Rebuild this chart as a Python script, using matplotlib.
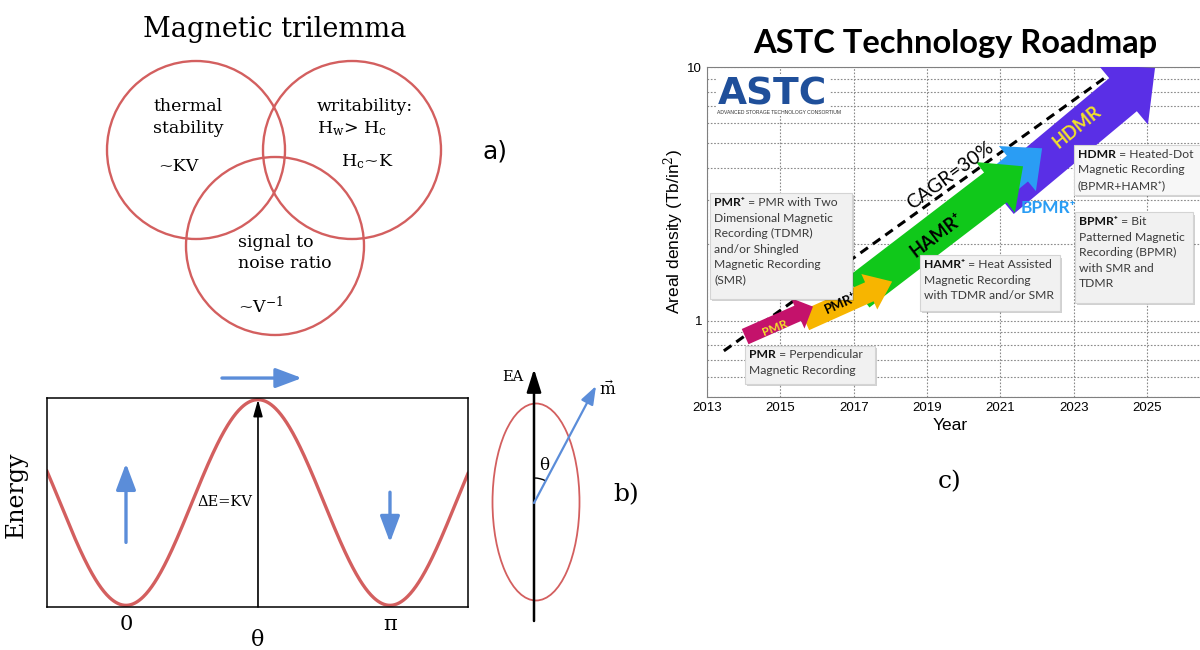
import numpy as np
import matplotlib.pyplot as plt
import matplotlib.patheffects as pe
from matplotlib.patches import Circle, Ellipse, Arc, FancyArrowPatch, Rectangle
from matplotlib.ticker import NullFormatter

plt.rcParams['font.family'] = ['DejaVu Serif']
plt.rcParams['mathtext.fontset'] = 'dejavuserif'

# a) magnetic trilemma
trilemma_title = 'Magnetic trilemma'
thermal_lines = ['thermal', 'stability', '~KV']
write_lines = ['writability:', r'H$_{\mathrm{w}}$> H$_{\mathrm{c}}$', r'H$_{\mathrm{c}}$~K']
snr_lines = ['signal to', 'noise ratio', r'~V$^{\mathrm{-1}}$']

# b) anisotropy energy landscape, E = KV sin^2(theta), KV = 1
KV = 1.0
theta_min, theta_max = -0.94, 4.07
theta_ticks = [0, np.pi]
theta_ticklabels = ['0', 'π']

# c) ASTC roadmap
year_ticks = [2013, 2015, 2017, 2019, 2021, 2023, 2025]
density_ticks = [1, 10]
density_ticklabels = ['1', '10']
cagr_years = [2013.46, 2024.07]
cagr_density = [0.76, 9.55]

tech = ['HDMR', 'BPMR⁺', 'HAMR⁺', 'PMR⁺', 'PMR']
start_year = [2020.99, 2020.58, 2017.12, 2015.67, 2014.04]
end_year = [2025.22, 2022.14, 2021.62, 2018.05, 2015.89]
start_density = [3.06, 3.12, 1.29, 1.00, 0.865]
end_density = [9.91, 4.78, 4.06, 1.426, 1.136]
tech_colors = ['#5a2fe6', '#2a9df4', '#10c81a', '#f7b500', '#c4126b']

note_bold = ['PMR⁺', 'PMR', 'HAMR⁺', 'BPMR⁺', 'HDMR']
note_first = [' = PMR with Two', ' = Perpendicular', ' = Heat Assisted', ' = Bit', ' = Heated-Dot']
note_rest = ['Dimensional Magnetic\nRecording (TDMR)\nand/or Shingled\nMagnetic Recording\n(SMR)',
             'Magnetic Recording',
             'Magnetic Recording\nwith TDMR and/or SMR',
             'Patterned Magnetic\nRecording (BPMR)\nwith SMR and\nTDMR',
             'Magnetic Recording\n(BPMR+HAMR⁺)']

red = '#d35f5f'
blue = '#5b8dd9'

fig = plt.figure(figsize=(12, 6.5), dpi=100)

# canvas in pixel units for the sketch parts
ax0 = fig.add_axes([0, 0, 1, 1])
ax0.set_xlim(0, 1200)
ax0.set_ylim(650, 0)
ax0.axis('off')

# ---- a)
ax0.text(275, 37, trilemma_title, ha='center', va='baseline', fontsize=19.5)
for cx, cy in [(196, 150), (352, 150), (275, 246)]:
    ax0.add_patch(Circle((cx, cy), 89, fill=False, ec=red, lw=1.7))
for txt, x, y in zip(thermal_lines, [153, 153, 158], [111, 133, 171]):
    ax0.text(x, y, txt, va='baseline', fontsize=12.5)
for txt, x, y in zip(write_lines, [317, 317, 341], [111, 133, 166]):
    ax0.text(x, y, txt, va='baseline', fontsize=12.5)
for txt, x, y in zip(snr_lines, [238, 238, 238], [247, 268, 313]):
    ax0.text(x, y, txt, va='baseline', fontsize=12.5)
ax0.text(482, 158, 'a)', va='baseline', fontsize=18, family='DejaVu Sans')

# ---- b) right sketch
ax0.add_patch(Ellipse((536, 502), 87, 197, fill=False, ec=red, lw=1.3))
ax0.annotate('', xy=(534, 369), xytext=(534, 621),
             arrowprops=dict(arrowstyle='-|>,head_length=0.7,head_width=0.22', mutation_scale=20,
                             lw=1.8, color='black', shrinkA=0, shrinkB=0))
ax0.annotate('', xy=(596, 386), xytext=(534, 503),
             arrowprops=dict(arrowstyle='-|>,head_length=0.55,head_width=0.2', mutation_scale=20,
                             lw=1.6, color=blue, shrinkA=0, shrinkB=0))
ax0.add_patch(Arc((534, 503), 50, 50, theta1=-90, theta2=-62, color='black', lw=1.0))
ax0.text(513, 377, 'EA', ha='center', va='center', fontsize=10.5)
ax0.text(608, 390, r'$\vec{\mathrm{m}}$', ha='center', va='center', fontsize=12)
ax0.text(544, 465, 'θ', ha='center', va='center', fontsize=12)
ax0.text(626, 495, 'b)', ha='center', va='center', fontsize=18)

# ---- c) label
ax0.text(950, 482, 'c)', ha='center', va='center', fontsize=18)

# ---- b) energy curve
axe = fig.add_axes([47 / 1200, 43 / 650, 421 / 1200, 209 / 650])
theta = np.linspace(theta_min, theta_max, 600)
axe.plot(theta, KV * np.sin(theta) ** 2, color=red, lw=2.4)
axe.set_xlim(theta_min, theta_max)
axe.set_ylim(-0.008, 1.008)
axe.set_xticks(theta_ticks, theta_ticklabels)
axe.set_yticks([])
axe.tick_params(length=0, pad=6, labelsize=15)
axe.set_xlabel('θ', fontsize=16)
axe.xaxis.set_label_coords(0.5, -0.105)
axe.set_ylabel('Energy', fontsize=17)
axe.yaxis.set_label_coords(-0.045, 0.535)
for s in axe.spines.values():
    s.set_linewidth(1.1)
arr = dict(mutation_scale=20, lw=2.4, color=blue, shrinkA=0, shrinkB=0)
axe.annotate('', xy=(0, 0.69), xytext=(0, 0.306),
             arrowprops=dict(arrowstyle='-|>,head_length=0.8,head_width=0.3', **arr))
axe.annotate('', xy=(np.pi, 0.306), xytext=(np.pi, 0.55),
             arrowprops=dict(arrowstyle='-|>,head_length=0.8,head_width=0.3', **arr))
axe.annotate('', xy=(2.094, 1.105), xytext=(1.142, 1.105), annotation_clip=False,
             arrowprops=dict(arrowstyle='-|>,head_length=0.8,head_width=0.3', **arr))
axe.annotate('', xy=(np.pi / 2, 1.0), xytext=(np.pi / 2, -0.008),
             arrowprops=dict(arrowstyle='-|>,head_length=0.5,head_width=0.14', mutation_scale=20,
                             lw=1.2, color='black', shrinkA=0, shrinkB=0))
axe.text(1.50, 0.50, 'ΔE=KV', ha='right', va='center', fontsize=10.5)

# ---- c) roadmap
sans = ['Lato', 'DejaVu Sans']
arial = ['Liberation Sans', 'DejaVu Sans']
fig.text(955 / 1200, 1 - 43 / 650, 'ASTC Technology Roadmap', ha='center', va='center',
         fontsize=23.5, weight='bold', family=sans)

axr = fig.add_axes([707 / 1200, 253 / 650, 503 / 1200, 330 / 650])
axr.set_yscale('log')
axr.set_xlim(2013, 2026.72)
axr.set_ylim(0.5, 10)
axr.set_xticks(year_ticks)
axr.set_yticks(density_ticks, density_ticklabels)
axr.yaxis.set_minor_formatter(NullFormatter())
axr.grid(which='both', ls=(0, (1.5, 1.5)), color='#8a8a8a', lw=0.8)
axr.tick_params(which='both', length=0, labelsize=9.5)
for lab in axr.get_xticklabels() + axr.get_yticklabels():
    lab.set_family(arial)
for s in axr.spines.values():
    s.set_color('#808080')
axr.set_xlabel('Year', fontsize=12.5, family=arial)
axr.set_ylabel('Areal density (Tb/in$^2$)', fontsize=12.5, family=arial)
axr.xaxis.set_label_coords(0.483, -0.065)
axr.yaxis.set_label_coords(-0.042, 0.5)

axr.plot(cagr_years, cagr_density, color='black', lw=2.2, ls=(0, (3, 2)), zorder=2,
         path_effects=[pe.Stroke(linewidth=5, foreground='white'), pe.Normal()])

widths = {'HDMR': (31, 56, 30), 'BPMR⁺': (24, 42, 23), 'HAMR⁺': (27, 46, 25),
          'PMR⁺': (15, 28, 18), 'PMR': (12, 24, 12)}
for i, name in enumerate(tech):
    tw, hw, hl = widths[name]
    axr.add_patch(FancyArrowPatch((start_year[i], start_density[i]), (end_year[i], end_density[i]),
                                  arrowstyle=f'simple,tail_width={tw},head_width={hw},head_length={hl}',
                                  mutation_scale=1, color=tech_colors[i], lw=0, shrinkA=0, shrinkB=0,
                                  zorder=3 + i))

lab_kw = dict(ha='center', va='center', weight='bold', family=sans, rotation_mode='anchor', zorder=12)
axr.text(2014.85, 0.935, 'PMR', color='#f2e22a', fontsize=8.5, rotation=22, **lab_kw)
axr.text(2016.65, 1.17, 'PMR⁺', color='black', fontsize=9.5, rotation=24, **lab_kw)
axr.text(2019.27, 2.17, 'HAMR⁺', color='black', fontsize=13, rotation=37, **lab_kw)
axr.text(2023.09, 5.80, 'HDMR', color='#f2e22a', fontsize=13, rotation=39, **lab_kw)
axr.text(2022.30, 2.77, 'BPMR⁺', color='#2a9df4', fontsize=12.5, weight='bold', family=sans,
         ha='center', va='center', zorder=9)
axr.text(2019.63, 3.74, 'CAGR=30%', color='black', fontsize=14, rotation=36, ha='center',
         va='center', family=sans, rotation_mode='anchor', zorder=9)

# logo
axr.text(0.131, 0.918, 'ASTC', transform=axr.transAxes, ha='center', va='center', fontsize=27,
         weight='heavy', color='#1f4f9a', family='DejaVu Sans', zorder=9,
         bbox=dict(fc='white', ec='none', pad=1.5))
axr.text(0.02, 0.861, 'ADVANCED STORAGE TECHNOLOGY CONSORTIUM', transform=axr.transAxes,
         ha='left', va='center', fontsize=3.6, color='#333333', family=arial, zorder=9,
         bbox=dict(fc='white', ec='none', pad=0.5))

# note boxes: (x0, x1, y0, y1)
boxes = [(2013.08, 2016.95, 1.222, 3.18), (2014.04, 2017.58, 0.563, 0.797),
         (2018.81, 2022.63, 1.095, 1.807), (2023.04, 2026.25, 1.178, 2.67),
         (2023.0, 2026.8, 3.12, 4.92)]
for i, (x0, x1, y0, y1) in enumerate(boxes):
    face = '#f7f7f7' if note_bold[i] == 'HDMR' else '#f1f1f1'
    axr.add_patch(Rectangle((x0, y0), x1 - x0, y1 - y0, fc=face, ec='#d4d4d4', lw=0.8, zorder=10,
                            path_effects=[pe.withSimplePatchShadow(offset=(1.5, -1.5), alpha=0.25)]))
    t = axr.annotate(note_bold[i], xy=(x0, y1), xytext=(3, -2.5), textcoords='offset points',
                     ha='left', va='top', fontsize=8.7, weight='bold', color='#111111',
                     family=sans, zorder=11)
    axr.annotate(note_first[i], xy=(1, 0), xycoords=t, ha='left', va='bottom', fontsize=8.7,
                 color='#3a3a3a', family=sans, zorder=11)
    axr.annotate(note_rest[i], xy=(0, 0), xycoords=t, xytext=(0, -3.5), textcoords='offset points',
                 ha='left', va='top', fontsize=8.7, color='#3a3a3a', family=sans,
                 linespacing=1.5, zorder=11)

fig.savefig('out.png', dpi=100)
